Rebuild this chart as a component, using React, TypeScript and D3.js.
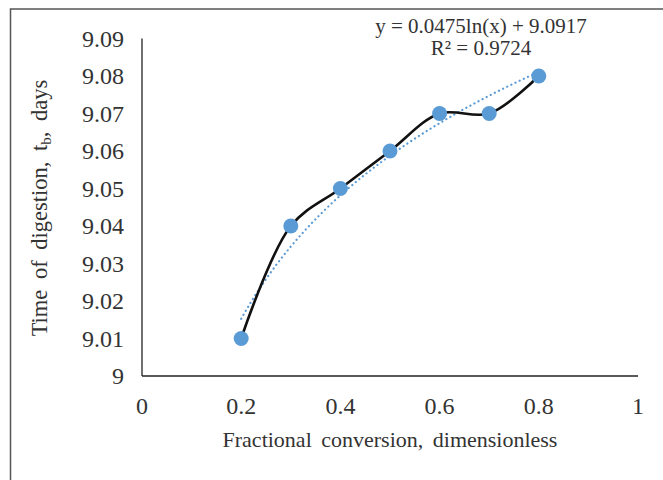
import React from "react";
import * as d3 from "d3";

const xValues = [0.2, 0.3, 0.4, 0.5, 0.6, 0.7, 0.8];
const yValues = [9.01, 9.04, 9.05, 9.06, 9.07, 9.07, 9.08];
const xTicks = [0, 0.2, 0.4, 0.6, 0.8, 1];
const yTicks = [9, 9.01, 9.02, 9.03, 9.04, 9.05, 9.06, 9.07, 9.08, 9.09];
const trendA = 0.0475;
const trendB = 9.0917;
const equationText = "y = 0.0475ln(x) + 9.0917";
const r2Text = "R² = 0.9724";

export default function App() {
  const W = 663, H = 480;
  const x = d3.scaleLinear().domain([0, 1]).range([142, 638]);
  const y = d3.scaleLinear().domain([9, 9.09]).range([376, 38.5]);
  const font = "'Liberation Serif', 'Times New Roman', serif";
  const pts: [number, number][] = xValues.map((v, i) => [v, yValues[i]]);
  const line = d3
    .line<[number, number]>()
    .x((d) => x(d[0]))
    .y((d) => y(d[1]))
    .curve(d3.curveCatmullRom.alpha(0.5));
  const trendXs = d3.range(0, 61).map((i) => 0.2 + (i * 0.6) / 60);
  const trendPts: [number, number][] = trendXs.map((v) => [v, trendA * Math.log(v) + trendB]);
  const trendLine = d3
    .line<[number, number]>()
    .x((d) => x(d[0]))
    .y((d) => y(d[1]));
  return (
    <svg
      width={W}
      height={H}
      style={{ position: "fixed", left: 0, top: 0, background: "#fff" }}
      fontFamily={font}
    >
      <rect x={0} y={0} width={W} height={H} fill="#fff" />
      <path d={`M10.5,${H + 5} L10.5,9 L${W + 5},9`} fill="none" stroke="#555" strokeWidth={1.5} />
      {/* axes */}
      <line x1={x(0)} x2={x(0)} y1={y(9.09)} y2={y(9)} stroke="#222" strokeWidth={1.3} />
      <line x1={x(0)} x2={x(1)} y1={y(9)} y2={y(9)} stroke="#222" strokeWidth={1.3} />
      {yTicks.map((t) => (
        <text key={t} x={124} y={y(t)} dy="0.34em" textAnchor="end" fontSize={24} fill="#333">
          {String(t)}
        </text>
      ))}
      {xTicks.map((t) => (
        <text key={t} x={x(t)} y={414} textAnchor="middle" fontSize={24} fill="#333">
          {String(t)}
        </text>
      ))}
      <text x={390} y={447} textAnchor="middle" fontSize={22} fill="#333" wordSpacing={4}>
        Fractional conversion, dimensionless
      </text>
      <text
        transform={`translate(47,208) rotate(-90)`}
        textAnchor="middle"
        fontSize={22.5}
        fill="#333"
        wordSpacing={5}
      >
        Time of digestion, t<tspan fontSize={15} dy={4}>b</tspan>
        <tspan dy={-4}>, days</tspan>
      </text>
      <path d={trendLine(trendPts) || ""} fill="none" stroke="#5B9BD5" strokeWidth={2.2} strokeDasharray="0.1 4.5" strokeLinecap="round" />
      <path d={line(pts) || ""} fill="none" stroke="#111" strokeWidth={2.6} />
      {pts.map((p, i) => (
        <circle key={i} cx={x(p[0])} cy={y(p[1])} r={7.5} fill="#5B9BD5" />
      ))}
      <text x={481} y={33} textAnchor="middle" fontSize={21} fill="#333">
        {equationText}
      </text>
      <text x={481} y={55} textAnchor="middle" fontSize={21} fill="#333">
        {r2Text}
      </text>
    </svg>
  );
}
